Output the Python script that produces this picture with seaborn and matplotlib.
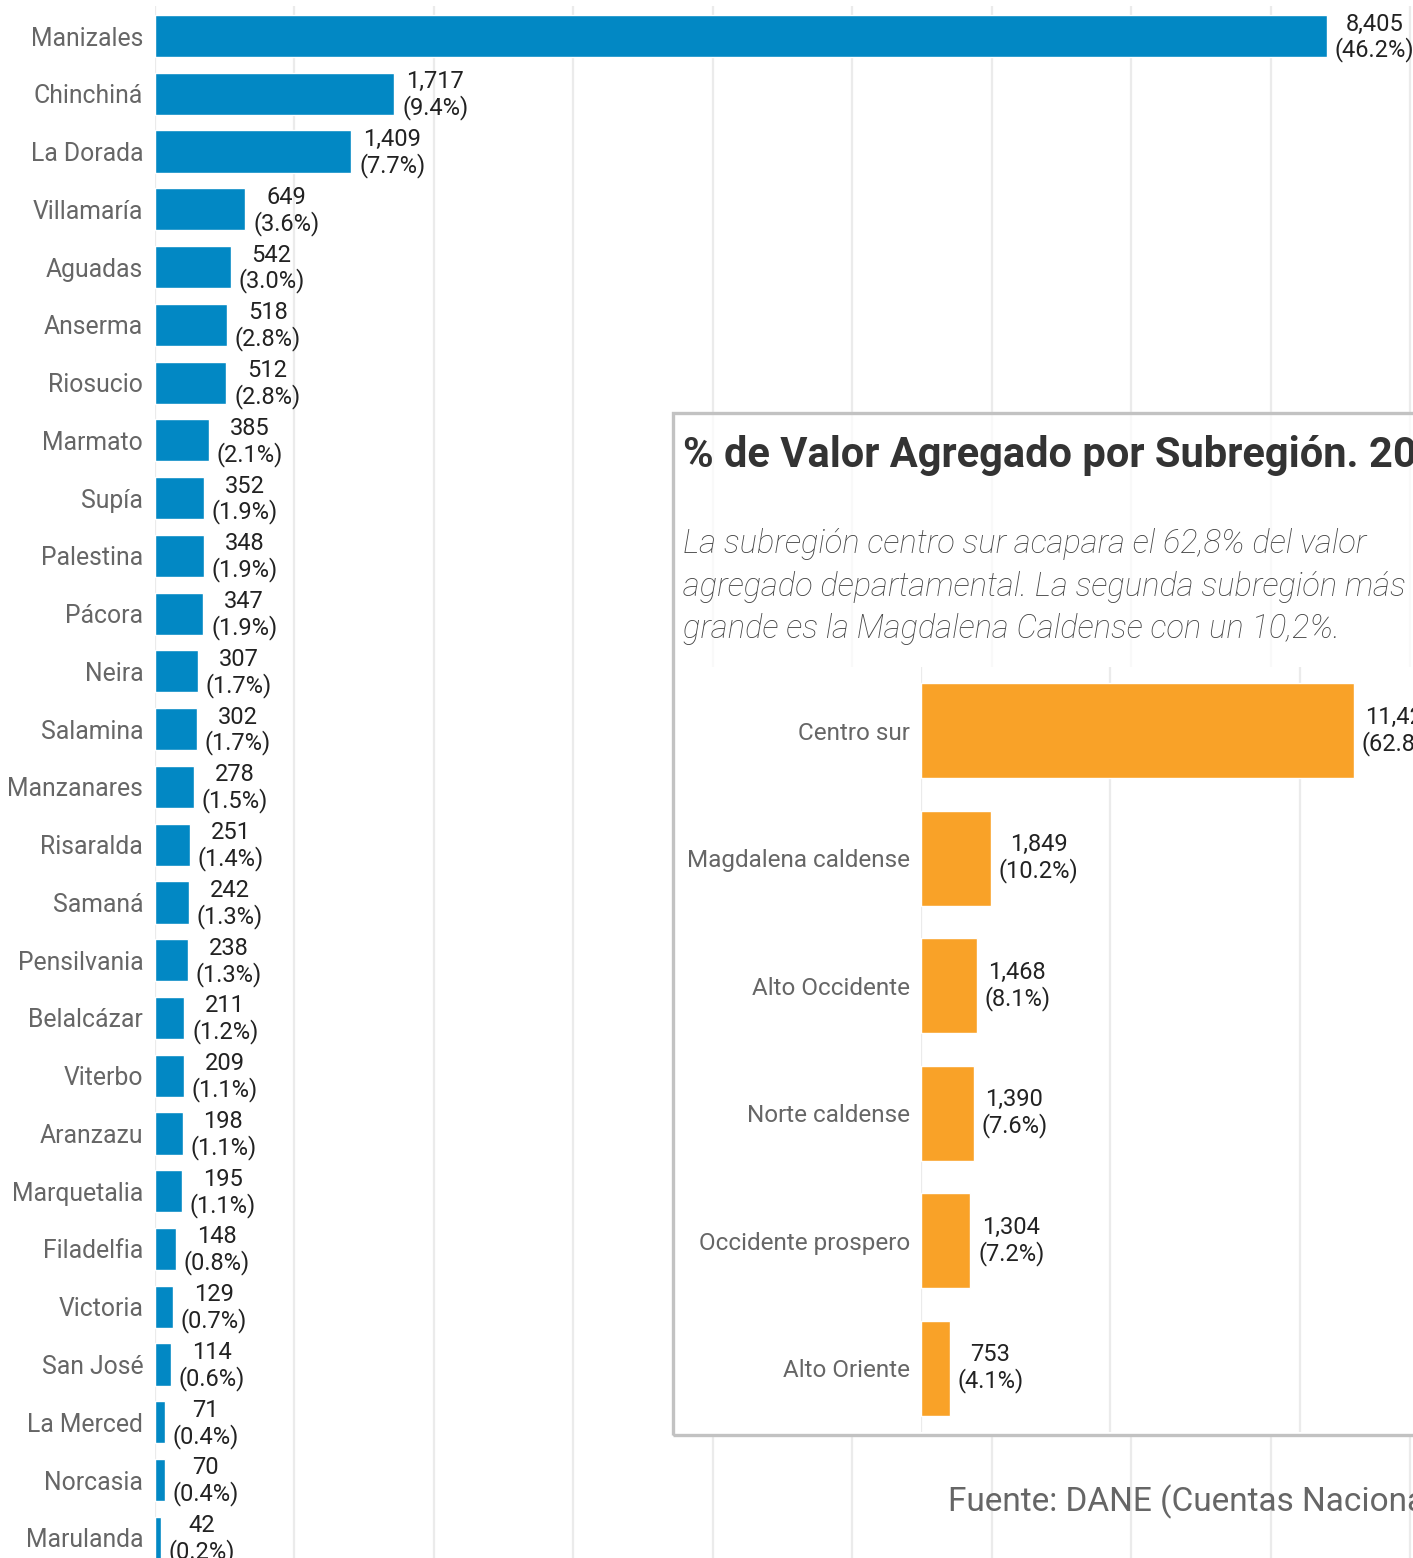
import matplotlib
matplotlib.use("Agg")
import matplotlib.pyplot as plt
import seaborn as sns
import pandas as pd
from matplotlib.patches import Rectangle

municipios = ["Manizales", "Chinchiná", "La Dorada", "Villamaría", "Aguadas", "Anserma",
              "Riosucio", "Marmato", "Supía", "Palestina", "Pácora", "Neira", "Salamina",
              "Manzanares", "Risaralda", "Samaná", "Pensilvania", "Belalcázar", "Viterbo",
              "Aranzazu", "Marquetalia", "Filadelfia", "Victoria", "San José", "La Merced",
              "Norcasia", "Marulanda"]
valores_mun = [8405, 1717, 1409, 649, 542, 518, 512, 385, 352, 348, 347, 307, 302, 278,
               251, 242, 238, 211, 209, 198, 195, 148, 129, 114, 71, 70, 42]
pct_mun = [46.2, 9.4, 7.7, 3.6, 3.0, 2.8, 2.8, 2.1, 1.9, 1.9, 1.9, 1.7, 1.7, 1.5,
           1.4, 1.3, 1.3, 1.2, 1.1, 1.1, 1.1, 0.8, 0.7, 0.6, 0.4, 0.4, 0.2]

subregiones = ["Centro sur", "Magdalena caldense", "Alto Occidente", "Norte caldense",
               "Occidente prospero", "Alto Oriente"]
valores_sub = [11425, 1849, 1468, 1390, 1304, 753]
pct_sub = [62.8, 10.2, 8.1, 7.6, 7.2, 4.1]

titulo = "% de Valor Agregado por Subregión. 2021"
subtitulo = ("La subregión centro sur acapara el 62,8% del valor\n"
             "agregado departamental. La segunda subregión más\n"
             "grande es la Magdalena Caldense con un 10,2%.")
fuente = "Fuente: DANE (Cuentas Nacionales Departamentales)"

sns.set_theme(style="white")
plt.rcParams['font.family'] = ['Roboto', 'DejaVu Sans']

W, H = 1413, 1558
fig = plt.figure(figsize=(W / 100, H / 100), dpi=100)
fig.patch.set_facecolor("white")

BLUE = "#0288c4"
ORANGE = "#f9a228"
GRID = "#ebebeb"

# ---------- main chart ----------
df_mun = pd.DataFrame({"municipio": municipios, "valor": valores_mun, "pct": pct_mun})
ax = fig.add_axes([155 / W, 0, 1 - 155 / W, 1 - 6 / H])
sns.barplot(data=df_mun, x="valor", y="municipio", orient="h", color=BLUE,
            width=0.73, saturation=1, ax=ax, zorder=2)
ax.set_xlim(0, (W - 155) / 0.13944)
ax.set_ylim(26.35, -0.52)
ax.set_xticks(range(0, 9001, 1000))
ax.set_xticklabels([])
ax.tick_params(axis="x", length=0)
ax.tick_params(axis="y", length=0, pad=8.5, labelsize=17.8, labelcolor="#666666")
ax.grid(axis="x", color=GRID, linewidth=1.6, zorder=0)
ax.set_axisbelow(True)
for s in ax.spines.values():
    s.set_visible(False)
ax.set_xlabel("")
ax.set_ylabel("")
for i, (v, p) in enumerate(zip(valores_mun, pct_mun)):
    ax.annotate(f"{v:,}\n({p:.1f}%)", (v, i), xytext=(5.5, -1), textcoords="offset points",
                ha="left", va="center", multialignment="center", fontsize=17,
                color="#222222", linespacing=1.1, zorder=3)

# ---------- inset box ----------
bx0, by_top, by_bot = 673, 413, 1435
box = Rectangle((bx0 / W, 1 - by_bot / H), 1.2, (by_bot - by_top) / H,
                transform=fig.transFigure, facecolor="white", alpha=0.7,
                edgecolor="none", zorder=1)
fig.add_artist(box)
cover = Rectangle((bx0 / W, 1 - by_bot / H), 1.2, (by_bot - 667) / H,
                  transform=fig.transFigure, facecolor="white", edgecolor="none", zorder=1.1)
fig.add_artist(cover)
border = Rectangle((bx0 / W, 1 - by_bot / H), 1.2, (by_bot - by_top) / H,
                   transform=fig.transFigure, facecolor="none",
                   edgecolor="#c2c2c2", linewidth=2.4, zorder=4)
fig.add_artist(border)

fig.text(683 / W, 1 - 455 / H, titulo, fontsize=30, fontweight="bold", color="#333333",
         ha="left", va="center", zorder=5)
fig.text(683 / W, 1 - 587 / H, subtitulo, fontsize=23.5, style="italic", fontweight="light",
         color="#444444", ha="left", va="center", linespacing=1.42, zorder=5)

# ---------- inset chart ----------
df_sub = pd.DataFrame({"subregion": subregiones, "valor": valores_sub, "pct": pct_sub})
ax2 = fig.add_axes([921 / W, 1 - 1432 / H, 1 - 921 / W, (1432 - 667) / H], zorder=3)
ax2.set_facecolor("white")
sns.barplot(data=df_sub, x="valor", y="subregion", orient="h", color=ORANGE,
            width=0.745, saturation=1, ax=ax2, zorder=2)
ax2.set_xlim(0, (W - 921) / 0.03786)
ax2.set_ylim(5.5, -0.5)
ax2.set_xticks([0, 5000, 10000])
ax2.set_xticklabels([])
ax2.tick_params(axis="x", length=0)
ax2.tick_params(axis="y", length=0, pad=8, labelsize=17.5, labelcolor="#666666")
ax2.grid(axis="x", color=GRID, linewidth=1.6, zorder=0)
ax2.set_axisbelow(True)
for s in ax2.spines.values():
    s.set_visible(False)
ax2.set_xlabel("")
ax2.set_ylabel("")
for i, (v, p) in enumerate(zip(valores_sub, pct_sub)):
    ax2.annotate(f"{v:,}\n({p:.1f}%)", (v, i), xytext=(5.5, 0), textcoords="offset points",
                 ha="left", va="center", multialignment="center", fontsize=17,
                 color="#222222", linespacing=1.1, zorder=3)

fig.text(948 / W, 1 - 1502 / H, fuente, fontsize=24, color="#666666",
         ha="left", va="center", zorder=5)

fig.savefig("out.png", dpi=100)
